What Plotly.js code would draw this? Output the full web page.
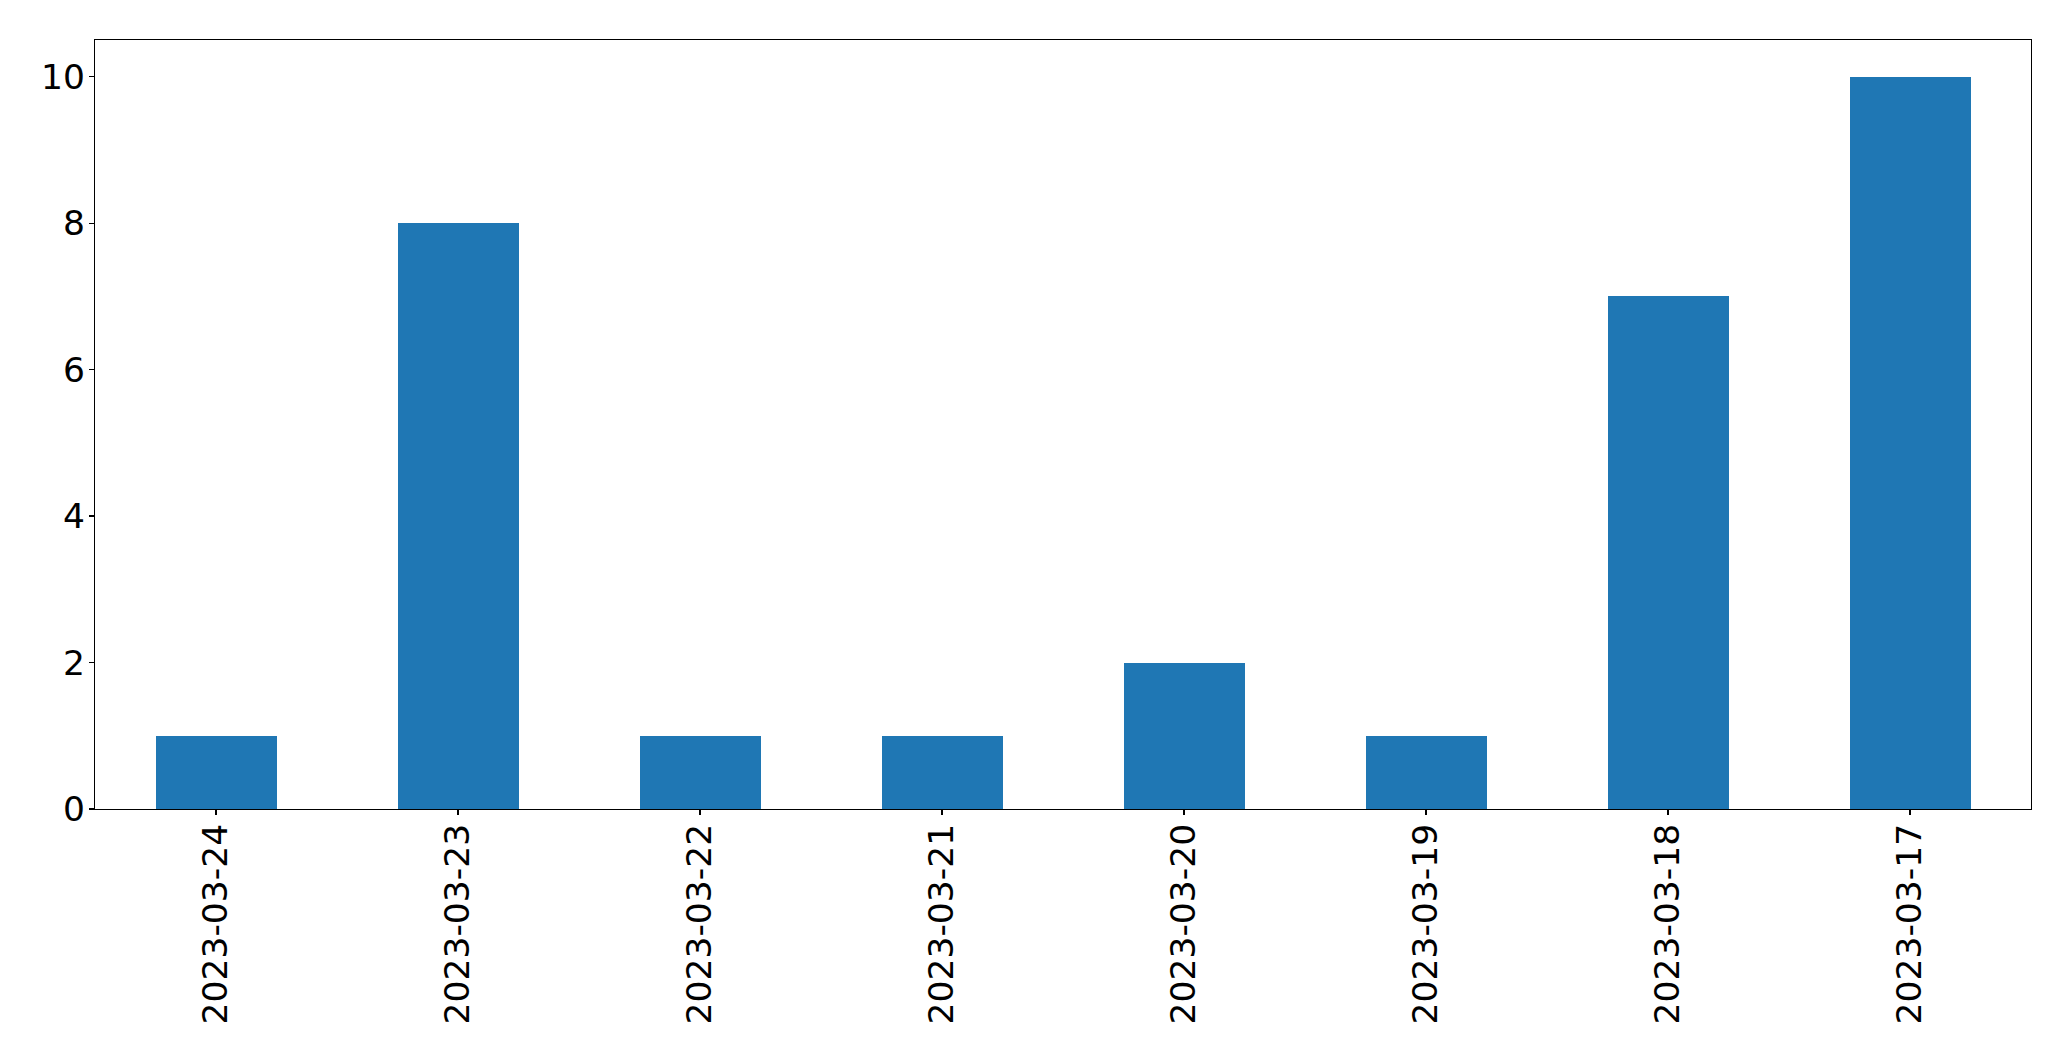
<!DOCTYPE html>
<html>
<head>
<meta charset="utf-8">
<script src="https://cdn.plot.ly/plotly-3.0.1.min.js"></script>
<style>html,body{margin:0;padding:0;background:#fff;}#chart{width:2071px;height:1061px;}</style>
</head>
<body>
<div id="chart"></div>
<script>
const categories = ["2023-03-24","2023-03-23","2023-03-22","2023-03-21","2023-03-20","2023-03-19","2023-03-18","2023-03-17"];
const values = [1, 8, 1, 1, 2, 1, 7, 10];
const yTicks = [0, 2, 4, 6, 8, 10];

const trace = {
  type: 'bar',
  x: categories,
  y: values,
  width: 0.5,
  marker: {color: '#1f77b4', line: {width: 0}},
  hoverinfo: 'x+y'
};

const font = {family: 'DejaVu Sans, sans-serif', size: 34.5, color: '#000'};

const layout = {
  width: 2071,
  height: 1061,
  margin: {l: 94.5, r: 39.5, t: 39.5, b: 252, pad: 0},
  paper_bgcolor: '#fff',
  plot_bgcolor: '#fff',
  showlegend: false,
  bargap: 0,
  xaxis: {
    type: 'category',
    range: [-0.5, 7.5],
    tickangle: -90,
    ticks: 'outside',
    ticklen: 5,
    tickwidth: 1.1,
    tickcolor: '#000',
    ticklabelstandoff: -5,
    showgrid: false,
    zeroline: false,
    showline: true,
    linecolor: '#000',
    linewidth: 1.1,
    mirror: true,
    tickfont: font
  },
  yaxis: {
    range: [0, 10.5],
    tickvals: yTicks,
    ticktext: yTicks.map(String),
    ticks: 'outside',
    ticklen: 5,
    tickwidth: 1.1,
    tickcolor: '#000',
    ticklabelstandoff: -3,
    showgrid: false,
    zeroline: false,
    showline: true,
    linecolor: '#000',
    linewidth: 1.1,
    mirror: true,
    tickfont: font
  }
};

Plotly.newPlot('chart', [trace], layout, {displayModeBar: false, staticPlot: true});
</script>
</body>
</html>
